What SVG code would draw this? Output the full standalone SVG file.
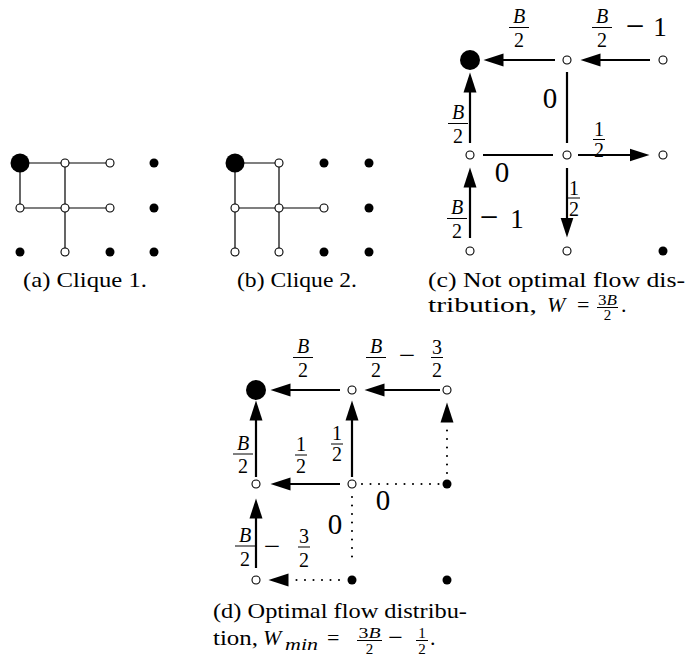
<svg xmlns="http://www.w3.org/2000/svg" width="689" height="657" viewBox="0 0 689 657">
  <defs>
    <style>
      .bg { fill: #fff; }
      .thin { stroke: #000; stroke-width: 1.2; fill: none; }
      .edge { stroke: #000; stroke-width: 2.2; fill: none; }
      .arr { stroke: #000; stroke-width: 2.2; fill: none; marker-end: url(#ah); }
      .dot { stroke: #000; stroke-width: 2.1; fill: none; stroke-linecap: round; stroke-dasharray: 0 8.5; }
      .dotarr { stroke: #000; stroke-width: 2.1; fill: none; stroke-linecap: round; stroke-dasharray: 0 8.5; marker-end: url(#ah); }
      .open { fill: #fff; stroke: #000; stroke-width: 1.1; }
      .solid { fill: #000; }
      text { font-family: "Liberation Serif", "Times New Roman", serif; fill: #000; }
      .cap { font-size: 22px; }
      .fr { font-size: 20px; text-anchor: middle; }
      .big { font-size: 29px; text-anchor: middle; }
      .op { font-size: 27px; text-anchor: middle; }
      .minus { font-size: 33px; text-anchor: middle; }
      .it { font-style: italic; }
      .bar { stroke: #000; stroke-width: 1; }
      .sfr { font-size: 15px; text-anchor: middle; }
    </style>
    <marker id="ah" markerUnits="userSpaceOnUse" markerWidth="22" markerHeight="14" viewBox="0 -7 22 14" refX="0.5" refY="0" orient="auto">
      <path d="M0,-6.5 L20,0 L0,6.5 z" style="fill:#000;stroke:none"/>
    </marker>
  </defs>
  <rect class="bg" x="0" y="0" width="689" height="657"/>

  <!-- (a) Clique 1 -->
  <g id="clique1">
    <g id="a-edges">
      <path class="thin" d="M20,163 H110 M20,163 V208 M65,163 V252 M20,208 H110"/>
    </g>
    <g id="a-nodes">
      <circle class="solid" cx="20" cy="163" r="9.5"/>
      <circle class="open" cx="65" cy="163" r="4"/>
      <circle class="open" cx="110" cy="163" r="4"/>
      <circle class="solid" cx="154" cy="163" r="4.5"/>
      <circle class="open" cx="20" cy="208" r="4"/>
      <circle class="open" cx="65" cy="208" r="4"/>
      <circle class="open" cx="110" cy="208" r="4"/>
      <circle class="solid" cx="154" cy="208" r="4.5"/>
      <circle class="solid" cx="20" cy="252" r="4.5"/>
      <circle class="open" cx="65" cy="252" r="4"/>
      <circle class="solid" cx="110" cy="252" r="4.5"/>
      <circle class="solid" cx="154" cy="252" r="4.5"/>
    </g>
    <text class="cap" x="23" y="287" textLength="124" lengthAdjust="spacingAndGlyphs">(a) Clique 1.</text>
  </g>

  <!-- (b) Clique 2 -->
  <g id="clique2">
    <g id="b-edges">
      <path class="thin" d="M235,163 H279 M235,163 V252 M279,163 V252 M235,208 H324"/>
    </g>
    <g id="b-nodes">
      <circle class="solid" cx="235" cy="163" r="9.5"/>
      <circle class="open" cx="279" cy="163" r="4"/>
      <circle class="solid" cx="324" cy="163" r="4.5"/>
      <circle class="solid" cx="369" cy="163" r="4.5"/>
      <circle class="open" cx="235" cy="208" r="4"/>
      <circle class="open" cx="279" cy="208" r="4"/>
      <circle class="open" cx="324" cy="208" r="4"/>
      <circle class="solid" cx="369" cy="208" r="4.5"/>
      <circle class="open" cx="235" cy="252" r="4"/>
      <circle class="open" cx="279" cy="252" r="4"/>
      <circle class="solid" cx="324" cy="252" r="4.5"/>
      <circle class="solid" cx="369" cy="252" r="4.5"/>
    </g>
    <text class="cap" x="237" y="287" textLength="120" lengthAdjust="spacingAndGlyphs">(b) Clique 2.</text>
  </g>

  <!-- (c) Not optimal flow distribution -->
  <g id="flow-c">
    <g id="c-connectors">
      <line class="arr" x1="555" y1="60" x2="503" y2="60"/>
      <line class="arr" x1="650" y1="60" x2="600" y2="60"/>
      <line class="arr" x1="470" y1="143" x2="470" y2="92"/>
      <line class="edge" x1="567" y1="72" x2="567" y2="143"/>
      <line class="edge" x1="483" y1="155" x2="553" y2="155"/>
      <line class="arr" x1="578" y1="155" x2="630" y2="155"/>
      <line class="arr" x1="567" y1="168" x2="567" y2="218"/>
      <line class="arr" x1="470" y1="238" x2="470" y2="187"/>
    </g>
    <g id="c-nodes">
      <circle class="solid" cx="470" cy="60" r="10"/>
      <circle class="open" cx="567" cy="60" r="4"/>
      <circle class="open" cx="663" cy="60" r="4"/>
      <circle class="open" cx="470" cy="155" r="4"/>
      <circle class="open" cx="567" cy="155" r="4"/>
      <circle class="open" cx="663" cy="155" r="4"/>
      <circle class="open" cx="470" cy="251" r="4"/>
      <circle class="open" cx="567" cy="251" r="4"/>
      <circle class="solid" cx="663" cy="251" r="4.5"/>
    </g>
    <g id="c-labels">
      <!-- B/2 over top-left edge -->
      <text class="fr it" x="519" y="23">B</text>
      <line class="bar" x1="509" y1="27.5" x2="529" y2="27.5"/>
      <text class="fr" x="519" y="47">2</text>
      <!-- B/2 − 1 over top-right edge -->
      <text class="fr it" x="602" y="23">B</text>
      <line class="bar" x1="592" y1="27.5" x2="612" y2="27.5"/>
      <text class="fr" x="602" y="47">2</text>
      <text class="minus" x="635" y="37">−</text>
      <text class="op" x="660" y="36">1</text>
      <!-- 0 beside top vertical -->
      <text class="big" x="550" y="108">0</text>
      <!-- B/2 left of upper vertical -->
      <text class="fr it" x="458" y="119">B</text>
      <line class="bar" x1="448" y1="123.5" x2="468" y2="123.5"/>
      <text class="fr" x="458" y="143">2</text>
      <!-- 0 under middle horizontal -->
      <text class="big" x="502" y="182">0</text>
      <!-- 1/2 over right arrow -->
      <text class="fr" x="599" y="136">1</text>
      <line class="bar" x1="593" y1="139.5" x2="605" y2="139.5"/>
      <text class="fr" x="599" y="157">2</text>
      <!-- 1/2 beside down arrow -->
      <text class="fr" x="574" y="195">1</text>
      <line class="bar" x1="568" y1="198" x2="580" y2="198"/>
      <text class="fr" x="574" y="216">2</text>
      <!-- B/2 − 1 beside lower vertical -->
      <text class="fr it" x="457" y="214">B</text>
      <line class="bar" x1="447" y1="218.5" x2="467" y2="218.5"/>
      <text class="fr" x="457" y="238">2</text>
      <text class="minus" x="489" y="228">−</text>
      <text class="op" x="517" y="228">1</text>
    </g>
    <g id="c-caption">
      <text class="cap" x="428" y="287" textLength="257" lengthAdjust="spacingAndGlyphs">(c) Not optimal flow dis-</text>
      <text class="cap" x="428" y="312" textLength="109" lengthAdjust="spacingAndGlyphs">tribution,</text>
      <text class="cap it" x="547" y="312">W</text>
      <text class="cap" x="577" y="312">=</text>
      <text class="sfr" x="607.5" y="305" textLength="19" lengthAdjust="spacingAndGlyphs">3<tspan font-style="italic">B</tspan></text>
      <line class="bar" x1="597" y1="307.5" x2="618" y2="307.5"/>
      <text class="sfr" x="607.5" y="320">2</text>
      <text class="cap" x="621" y="312">.</text>
    </g>
  </g>

  <!-- (d) Optimal flow distribution -->
  <g id="flow-d">
    <g id="d-connectors">
      <line class="arr" x1="340" y1="390" x2="290" y2="390"/>
      <line class="arr" x1="440" y1="390" x2="384" y2="390"/>
      <line class="arr" x1="256" y1="477" x2="256" y2="420"/>
      <line class="arr" x1="352" y1="477" x2="352" y2="420"/>
      <line class="dotarr" x1="447" y1="473" x2="447" y2="422"/>
      <line class="arr" x1="340" y1="484" x2="290" y2="484"/>
      <line class="dot" x1="362" y1="484" x2="439.5" y2="484"/>
      <line class="dot" x1="352" y1="497" x2="352" y2="565"/>
      <line class="arr" x1="256" y1="568" x2="256" y2="518"/>
      <line class="dotarr" x1="339" y1="580" x2="288" y2="580"/>
    </g>
    <g id="d-nodes">
      <circle class="solid" cx="256" cy="390" r="10"/>
      <circle class="open" cx="352" cy="390" r="4"/>
      <circle class="open" cx="447" cy="390" r="4"/>
      <circle class="open" cx="256" cy="484" r="4"/>
      <circle class="open" cx="352" cy="484" r="4"/>
      <circle class="solid" cx="447" cy="484" r="4.5"/>
      <circle class="open" cx="256" cy="580" r="4"/>
      <circle class="solid" cx="352" cy="580" r="4.5"/>
      <circle class="solid" cx="447" cy="580" r="4.5"/>
    </g>
    <g id="d-labels">
      <!-- B/2 over top-left edge -->
      <text class="fr it" x="303" y="353">B</text>
      <line class="bar" x1="293" y1="357.5" x2="313" y2="357.5"/>
      <text class="fr" x="303" y="377">2</text>
      <!-- B/2 − 3/2 over top-right edge -->
      <text class="fr it" x="376" y="353">B</text>
      <line class="bar" x1="366" y1="357.5" x2="386" y2="357.5"/>
      <text class="fr" x="376" y="377">2</text>
      <text class="minus" x="407" y="365" style="font-size:29px">−</text>
      <text class="fr" x="437" y="354">3</text>
      <line class="bar" x1="431" y1="357.5" x2="443" y2="357.5"/>
      <text class="fr" x="437" y="377">2</text>
      <!-- B/2 left of upper-left vertical -->
      <text class="fr it" x="243" y="450">B</text>
      <line class="bar" x1="233" y1="454" x2="253" y2="454"/>
      <text class="fr" x="243" y="473">2</text>
      <!-- 1/2 over lower horizontal arrow -->
      <text class="fr" x="301" y="451">1</text>
      <line class="bar" x1="295" y1="455" x2="307" y2="455"/>
      <text class="fr" x="301" y="473">2</text>
      <!-- 1/2 beside middle vertical arrow -->
      <text class="fr" x="337" y="440">1</text>
      <line class="bar" x1="331" y1="444" x2="343" y2="444"/>
      <text class="fr" x="337" y="461">2</text>
      <!-- zero-flow labels on the dotted edges -->
      <text class="big" x="383" y="510">0</text>
      <text class="big" x="335" y="534">0</text>
      <!-- B/2 − 3/2 beside lower-left vertical -->
      <text class="fr it" x="245" y="542">B</text>
      <line class="bar" x1="235" y1="546" x2="255" y2="546"/>
      <text class="fr" x="245" y="566">2</text>
      <text class="minus" x="272" y="556" style="font-size:29px">−</text>
      <text class="fr" x="304" y="543">3</text>
      <line class="bar" x1="298" y1="547" x2="310" y2="547"/>
      <text class="fr" x="304" y="567">2</text>
    </g>
    <g id="d-caption">
      <text class="cap" x="213" y="618" textLength="254" lengthAdjust="spacingAndGlyphs">(d) Optimal flow distribu-</text>
      <text class="cap" x="213" y="645" textLength="45" lengthAdjust="spacingAndGlyphs">tion,</text>
      <text class="cap it" x="263" y="645">W</text>
      <text class="it" x="285" y="650" style="font-size:17px" textLength="33" lengthAdjust="spacingAndGlyphs">min</text>
      <text class="cap" x="327" y="645">=</text>
      <text class="sfr" x="369.5" y="638" textLength="22" lengthAdjust="spacingAndGlyphs">3<tspan font-style="italic">B</tspan></text>
      <line class="bar" x1="357" y1="640.5" x2="382" y2="640.5"/>
      <text class="sfr" x="369.5" y="654">2</text>
      <text class="minus" x="395.5" y="646" style="font-size:26px">−</text>
      <text class="sfr" x="422" y="638">1</text>
      <line class="bar" x1="416" y1="640.5" x2="428" y2="640.5"/>
      <text class="sfr" x="422" y="654">2</text>
      <text class="cap" x="430" y="645">.</text>
    </g>
  </g>
</svg>
